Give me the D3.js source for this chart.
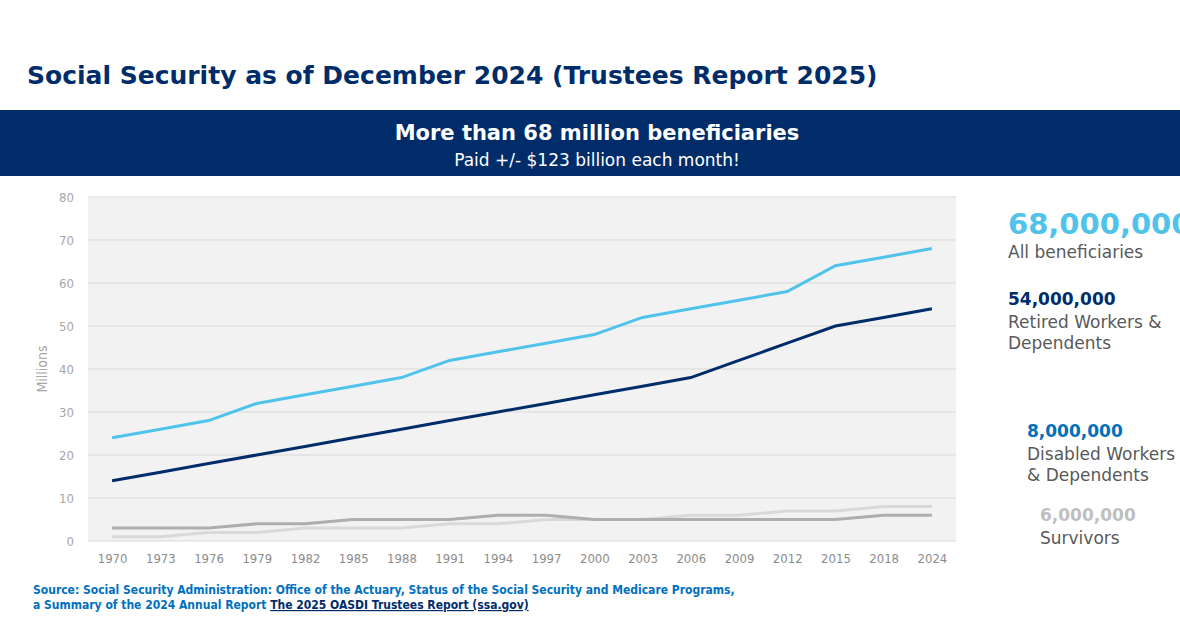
<!DOCTYPE html>
<html><head><meta charset="utf-8">
<script src="https://cdn.jsdelivr.net/npm/d3@7"></script>
<style>body{margin:0;background:#fff}</style>
</head><body><div id="chart"></div>
<script>
const years = ["1970","1973","1976","1979","1982","1985","1988","1991","1994","1997","2000","2003","2006","2009","2012","2015","2018","2024"];
const allBen = [24,26,28,32,34,36,38,42,44,46,48,52,54,56,58,64,66,68];
const retired = [14,16,18,20,22,24,26,28,30,32,34,36,38,42,46,50,52,54];
const survivors = [3,3,3,4,4,5,5,5,6,6,5,5,5,5,5,5,6,6];
const disabled = [1,1,2,2,3,3,3,4,4,5,5,5,6,6,7,7,8,8];
const yTicks = [0,10,20,30,40,50,60,70,80];

const series = [
  {vals: disabled, color: "#d9d9d6"},
  {vals: survivors, color: "#aeaeae"},
  {vals: retired, color: "#002d6a"},
  {vals: allBen, color: "#4fc3ea"}
];

const W = 1180, H = 633;
const svg = d3.select("#chart").append("svg").attr("width", W).attr("height", H);

svg.append("text").attr("x", 27).attr("y", 84)
  .attr("font-family", "DejaVu Sans").attr("font-weight", "bold").attr("font-size", 25)
  .attr("fill", "#002d6a").text("Social Security as of December 2024 (Trustees Report 2025)");

svg.append("rect").attr("x", 0).attr("y", 110).attr("width", W).attr("height", 66).attr("fill", "#002d6a");
svg.append("text").attr("x", 597).attr("y", 140).attr("text-anchor", "middle")
  .attr("font-family", "DejaVu Sans").attr("font-weight", "bold").attr("font-size", 21)
  .attr("fill", "#fff").text("More than 68 million beneficiaries");
svg.append("text").attr("x", 597).attr("y", 166).attr("text-anchor", "middle")
  .attr("font-family", "DejaVu Sans").attr("font-size", 17)
  .attr("fill", "#fff").text("Paid +/- $123  billion each month!");

const pL = 88, pR = 956, pT = 197, pB = 541;
const x = d3.scalePoint().domain(years).range([pL, pR]).padding(0.5);
const y = d3.scaleLinear().domain([0, 80]).range([pB, pT]);

svg.append("rect").attr("x", pL).attr("y", pT).attr("width", pR - pL).attr("height", pB - pT).attr("fill", "#f2f2f2");
svg.append("g").selectAll("line").data(yTicks).join("line")
  .attr("x1", pL).attr("x2", pR).attr("y1", d => y(d)).attr("y2", d => y(d))
  .attr("stroke", "#d9d9d9").attr("stroke-width", 1);

const ty = svg.append("g").attr("transform", `translate(${pL},0)`)
  .call(d3.axisLeft(y).tickValues(yTicks).tickSize(0).tickPadding(14));
ty.select(".domain").remove();
ty.selectAll("text").attr("font-family", "DejaVu Sans Condensed").attr("font-size", 13).attr("fill", "#a6a6a6");

const tx = svg.append("g").attr("transform", `translate(0,${pB})`)
  .call(d3.axisBottom(x).tickSize(0).tickPadding(13));
tx.select(".domain").remove();
tx.selectAll("text").attr("font-family", "DejaVu Sans Condensed").attr("font-size", 13).attr("fill", "#8c8c8c");

svg.append("text").attr("transform", `translate(47,${y(40)}) rotate(-90)`).attr("text-anchor", "middle")
  .attr("font-family", "DejaVu Sans Condensed").attr("font-size", 14).attr("fill", "#a6a6a6").text("Millions");

const line = d3.line().x((d, i) => x(years[i])).y(d => y(d));
svg.append("g").selectAll("path").data(series).join("path")
  .attr("d", d => line(d.vals)).attr("fill", "none")
  .attr("stroke", d => d.color).attr("stroke-width", 3);

const labels = [
  {x: 1008, y: 234, num: "68,000,000", size: 29, color: "#4fc3ea", lines: ["All beneficiaries"]},
  {x: 1008, y: 305, num: "54,000,000", size: 17, color: "#002d6a", lines: ["Retired Workers &", "Dependents"]},
  {x: 1027, y: 437, num: "8,000,000", size: 17, color: "#0070c0", lines: ["Disabled Workers", "& Dependents"]},
  {x: 1040, y: 521, num: "6,000,000", size: 17, color: "#bfbfbf", lines: ["Survivors"]}
];
labels.forEach(l => {
  svg.append("text").attr("x", l.x).attr("y", l.y).attr("font-family", "DejaVu Sans")
    .attr("font-weight", "bold").attr("font-size", l.size).attr("fill", l.color).text(l.num);
  l.lines.forEach((t, i) => svg.append("text").attr("x", l.x).attr("y", l.y + 25 + i * 21 + (l.size > 20 ? -1 : -2))
    .attr("font-family", "DejaVu Sans").attr("font-size", 17).attr("fill", "#595959").text(t));
});

const src = svg.append("text").attr("font-family", "DejaVu Sans Condensed").attr("font-weight", "bold")
  .attr("font-size", 12).attr("fill", "#0070c0");
src.append("tspan").attr("x", 33).attr("y", 594).text("Source: Social Security Administration: Office of the Actuary, Status of the Social Security and Medicare Programs,");
src.append("tspan").attr("x", 33).attr("y", 609).text("a Summary of the 2024 Annual Report ");
src.append("tspan").attr("fill", "#002d6a").attr("text-decoration", "underline").text("The 2025 OASDI Trustees Report (ssa.gov)");
</script></body></html>
